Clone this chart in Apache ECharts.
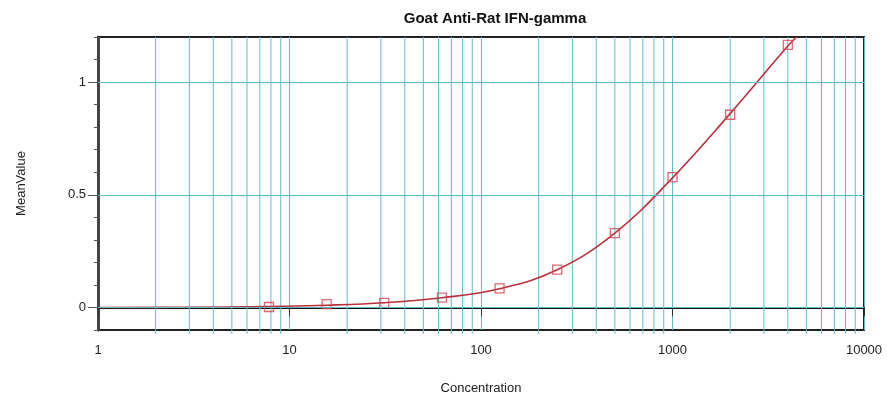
<!DOCTYPE html>
<html>
<head>
<meta charset="utf-8">
<script src="https://cdn.jsdelivr.net/npm/echarts@6/dist/echarts.min.js"></script>
<style>
html,body{margin:0;padding:0;background:#fff;}
#c{width:887px;height:400px;}
</style>
</head>
<body>
<div id="c"></div>
<script>
// ---- data ----
var pointX = [7.8125, 15.625, 31.25, 62.5, 125, 250, 500, 1000, 2000, 4000];
var pointY = [0.002, 0.015, 0.02, 0.044, 0.085, 0.168, 0.33, 0.578, 0.855, 1.165];
var curveX = [1, 3, 7.8125, 15.625, 31.25, 62.5, 125, 250, 500, 1000, 2000, 4000, 4450];
var curveY = [0, 0.001, 0.004, 0.01, 0.021, 0.043, 0.083, 0.167, 0.33, 0.575, 0.86, 1.16, 1.2];
var minorX = [2,3,4,5,6,7,8,9,20,30,40,50,60,70,80,90,200,300,400,500,600,700,800,900,2000,3000,4000,5000,6000,7000,8000,9000];
var gridY = [0, 0.5, 1];
var yLabelValues = [0, 0.5, 1];

var GRID = '#62bccb';

var chart = echarts.init(document.getElementById('c'));
chart.setOption({
  animation: false,
  backgroundColor: '#fff',
  title: {
    text: 'Goat Anti-Rat IFN-gamma',
    left: 490, top: 6, textAlign: 'center',
    textStyle: {fontFamily: 'Liberation Sans, Arial', fontSize: 15, fontWeight: 'bold', color: '#111'}
  },
  grid: {left: 98, right: 23, top: 37, bottom: 69, show: true, borderColor: '#222', borderWidth: 2, backgroundColor: 'transparent'},
  xAxis: {
    type: 'log', logBase: 10, min: 1, max: 10000,
    name: 'Concentration', nameLocation: 'middle', nameGap: 52,
    nameTextStyle: {fontFamily: 'Liberation Sans, Arial', fontSize: 13, color: '#222'},
    axisLine: {show: true, lineStyle: {color: '#111', width: 2}},
    axisTick: {show: true, inside: false, length: 9, lineStyle: {color: '#333', width: 1}},
    axisLabel: {fontFamily: 'Liberation Sans, Arial', fontSize: 13, color: '#222', margin: 14,
      formatter: function (v) { return String(Math.round(v)); }},
    splitLine: {show: true, lineStyle: {color: GRID, width: 1}},
    minorTick: {show: false}, minorSplitLine: {show: false}
  },
  yAxis: [{
    type: 'value', min: -0.1, max: 1.2, interval: 0.1,
    name: 'MeanValue', nameLocation: 'middle', nameGap: 70,
    nameTextStyle: {fontFamily: 'Liberation Sans, Arial', fontSize: 13, color: '#222'},
    axisLine: {show: true, lineStyle: {color: '#444', width: 3}},
    axisTick: {show: true, length: 4, lineStyle: {color: '#555'}},
    axisLabel: {show: false},
    splitLine: {show: false}
  }, {
    type: 'value', min: -0.1, max: 1.2, position: 'left', offset: 0,
    axisLine: {show: false},
    axisTick: {show: true, length: 10, customValues: yLabelValues, lineStyle: {color: '#555'}},
    axisLabel: {show: true, customValues: yLabelValues, fontFamily: 'Liberation Sans, Arial', fontSize: 13, color: '#222', margin: 12},
    splitLine: {show: false}
  }],
  series: [{
    type: 'custom', z: 1, silent: true,
    data: minorX.map(function (v) { return [v, 0]; }),
    encode: {x: 0, y: 1},
    renderItem: function (params, api) {
      var cs = params.coordSys;
      var p = api.coord([api.value(0), 0]);
      return {type: 'line', shape: {x1: p[0], y1: cs.y, x2: p[0], y2: cs.y + cs.height + 4},
        style: {stroke: GRID, lineWidth: 1}};
    },
    markLine: {
      silent: true, symbol: 'none', label: {show: false},
      lineStyle: {color: GRID, width: 1, type: 'solid'},
      data: gridY.map(function (v) { return {yAxis: v}; })
    }
  }, {
    type: 'line', z: 3, smooth: 0.4, showSymbol: false, symbol: 'none',
    data: curveX.map(function (x, i) { return [x, curveY[i]]; }),
    lineStyle: {color: '#b8303c', width: 1.6}
  }, {
    type: 'scatter', z: 4, symbol: 'rect', symbolSize: 9,
    data: pointX.map(function (x, i) { return [x, pointY[i]]; }),
    itemStyle: {color: 'rgba(255,255,255,0)', borderColor: '#d84050', borderWidth: 1.3}
  }]
});
</script>
</body>
</html>
